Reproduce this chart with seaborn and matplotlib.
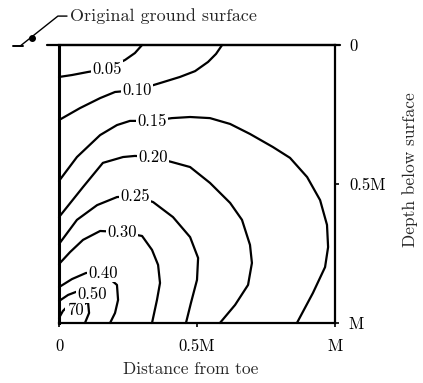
import matplotlib
matplotlib.use("Agg")
import matplotlib.pyplot as plt
import seaborn as sns
import pandas as pd

sns.set_theme(style="white")
plt.rcParams['font.family'] = ['cmr10', 'DejaVu Serif']
plt.rcParams['axes.formatter.use_mathtext'] = True

# Contour lines of the influence factor, x = distance from toe (in M), d = depth below surface (in M)
c005_x = [0, 0.047, 0.105, 0.174, 0.239, 0.275, 0.301]
c005_d = [0.115, 0.108, 0.097, 0.086, 0.054, 0.029, 0.0]
c010_x = [0, 0.076, 0.149, 0.203, 0.283, 0.366, 0.438, 0.493, 0.540, 0.569, 0.591]
c010_d = [0.270, 0.227, 0.191, 0.169, 0.162, 0.137, 0.115, 0.094, 0.061, 0.032, 0.0]
c015_x = [0, 0.065, 0.149, 0.210, 0.257, 0.337, 0.409, 0.475, 0.547, 0.620, 0.692, 0.775,
          0.837, 0.899, 0.946, 0.971, 0.975, 0.964, 0.920, 0.862]
c015_d = [0.489, 0.403, 0.324, 0.288, 0.273, 0.273, 0.263, 0.259, 0.263, 0.284, 0.320, 0.367,
          0.406, 0.475, 0.558, 0.647, 0.727, 0.799, 0.892, 1.0]
c020_x = [0, 0.087, 0.159, 0.232, 0.275, 0.341, 0.409, 0.475, 0.547, 0.620, 0.663, 0.692,
          0.699, 0.685, 0.638, 0.583]
c020_d = [0.619, 0.511, 0.424, 0.403, 0.399, 0.403, 0.421, 0.439, 0.496, 0.568, 0.629, 0.719,
          0.784, 0.863, 0.935, 1.0]
c025_x = [0, 0.065, 0.138, 0.210, 0.275, 0.341, 0.413, 0.475, 0.504, 0.500, 0.478, 0.460]
c025_d = [0.716, 0.629, 0.576, 0.547, 0.543, 0.565, 0.619, 0.691, 0.766, 0.845, 0.928, 1.0]
c030_x = [0, 0.040, 0.087, 0.149, 0.228, 0.301, 0.337, 0.359, 0.366, 0.355, 0.337]
c030_d = [0.788, 0.745, 0.701, 0.669, 0.673, 0.687, 0.737, 0.791, 0.856, 0.917, 1.0]
c040_x = [0, 0.047, 0.098, 0.159, 0.210, 0.214, 0.203, 0.185]
c040_d = [0.871, 0.842, 0.820, 0.820, 0.863, 0.917, 0.964, 1.0]
c050_x = [0, 0.033, 0.062, 0.120]
c050_d = [0.921, 0.899, 0.888, 0.896]
c070_x = [0, 0.014, 0.029, 0.058, 0.105, 0.109, 0.094]
c070_d = [0.982, 0.957, 0.942, 0.953, 0.924, 0.964, 1.0]

levels = ["0.05", "0.10", "0.15", "0.20", "0.25", "0.30", "0.40", "0.50", "70"]
label_idx = [3, 4, 5, 5, 4, 4, 3, 3, 3]
curves_x = [c005_x, c010_x, c015_x, c020_x, c025_x, c030_x, c040_x, c050_x, c070_x]
curves_d = [c005_d, c010_d, c015_d, c020_d, c025_d, c030_d, c040_d, c050_d, c070_d]

x_ticks = [0, 0.5, 1.0]
x_ticklabels = ["0", "0.5M", "M"]
y_ticks = [0, 0.5, 1.0]
y_ticklabels = ["0", "0.5M", "M"]

W, H = 423, 383
fig = plt.figure(figsize=(W / 100, H / 100), dpi=100)
ax = fig.add_axes([59 / W, 1 - 323 / H, 276 / W, 278 / H])

for lab, xs, ds in zip(levels, curves_x, curves_d):
    df = pd.DataFrame({"x": xs, "d": ds})
    sns.lineplot(data=df, x="x", y="d", sort=False, estimator=None, color="black",
                 lw=1.6, ax=ax, clip_on=False)

for lab, xs, ds, i in zip(levels, curves_x, curves_d, label_idx):
    ax.text(xs[i], ds[i], lab, ha="center", va="center", fontsize=12, color="black",
            bbox=dict(boxstyle="square,pad=0.08", fc="white", ec="none"), zorder=5)

ax.set_xlim(0, 1)
ax.set_ylim(1, 0)

for s in ax.spines.values():
    s.set_color("black")
    s.set_linewidth(1.6)
ax.spines["left"].set_linewidth(2.2)

# ground surface line extended past the frame, and the leader
ax.plot([-0.043, 1.018], [0, 0], color="black", lw=1.6, clip_on=False)
ax.plot([-0.167, -0.13], [0.004, 0.004], color="black", lw=1.4, clip_on=False)
ax.plot([-0.141, -0.004, 0.029], [0.004, -0.104, -0.104], color="black", lw=1.0, clip_on=False)
ax.plot([-0.098], [-0.025], marker="o", ms=4, color="black", clip_on=False)
ax.text(0.04, -0.104, "Original ground surface", ha="left", va="center", fontsize=13)

ax.set_xticks(x_ticks)
ax.set_xticklabels(x_ticklabels)
ax.set_yticks(y_ticks)
ax.set_yticklabels(y_ticklabels)
ax.yaxis.tick_right()
ax.yaxis.set_label_position("right")
ax.tick_params(axis="both", which="both", direction="out", length=3, width=1.2,
               colors="black", labelsize=12)
ax.tick_params(axis="x", pad=8, bottom=True)
ax.tick_params(axis="y", pad=7, right=True, left=False)

ax.set_xlabel("Distance from toe", fontsize=12.5)
ax.xaxis.set_label_coords(0.478, -0.14)
ax.set_ylabel("Depth below surface", fontsize=12.5, rotation=90)
ax.yaxis.set_label_coords(1.245, 0.55)
ax.grid(False)

fig.savefig("out.png", dpi=100)
